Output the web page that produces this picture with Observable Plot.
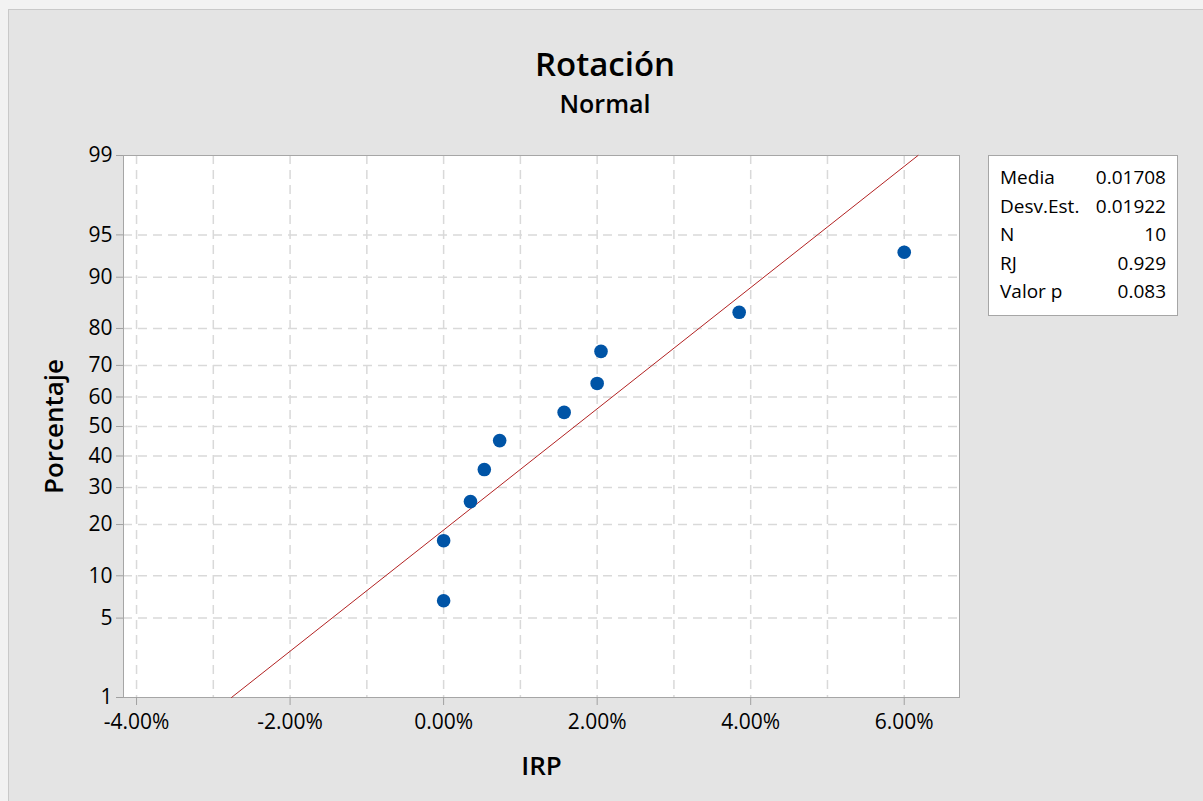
<!DOCTYPE html>
<html><head><meta charset="utf-8">
<script src="https://cdn.jsdelivr.net/npm/d3@7"></script>
<script src="https://cdn.jsdelivr.net/npm/@observablehq/plot@0.6"></script>
<style>
html,body{margin:0;padding:0;width:1203px;height:801px;overflow:hidden;background:#f2f2f2;font-family:"Open Sans",sans-serif;color:#000;}
#panel{position:absolute;left:8px;top:9px;width:1195px;height:792px;background:#e4e4e4;border-left:1px solid #c9c9c9;border-top:1px solid #c9c9c9;}
#title{position:absolute;left:0;width:1210px;top:47px;text-align:center;font-size:33px;line-height:33px;font-weight:600;}
#subtitle{position:absolute;left:0;width:1210px;top:91px;text-align:center;font-size:25px;line-height:25px;font-weight:600;}
#chart{position:absolute;left:0;top:140px;}
#stats{position:absolute;left:988px;top:155px;width:188px;height:152px;background:#fff;border:1px solid #a6a6a6;padding-top:7px;box-sizing:content-box;}
#stats .row{display:flex;justify-content:space-between;height:28.5px;line-height:28.5px;font-size:19px;padding:0 11px 0 11px;}
g[aria-label="x-axis label"], g[aria-label="x-axis label"] text,
g[aria-label="y-axis label"], g[aria-label="y-axis label"] text{font-size:26px;font-weight:600;}
</style>
</head><body>
<div id="panel"></div>
<div id="title"></div>
<div id="subtitle"></div>
<div id="chart"></div>
<div id="stats"></div>
<script>
// ---- data ----
const titleText = "Rotación";
const subtitleText = "Normal";
const xLabel = "IRP";
const yLabel = "Porcentaje";
const irp = [0.0000, 0.0000, 0.0035, 0.0053, 0.0073, 0.0157, 0.0200, 0.0205, 0.0385, 0.0600];
const percent = [6.73, 16.35, 25.96, 35.58, 45.19, 54.81, 64.42, 74.04, 83.65, 93.27];
const yTickPercents = [1, 5, 10, 20, 30, 40, 50, 60, 70, 80, 90, 95, 99];
const yGridPercents = [5, 10, 20, 30, 40, 50, 60, 70, 80, 90, 95];
const xTicks = [-0.04, -0.02, 0, 0.02, 0.04, 0.06];
const xGrid = [-0.04, -0.03, -0.02, -0.01, 0, 0.01, 0.02, 0.03, 0.04, 0.05, 0.06];
const fitMean = 0.01708;
const fitSd = 0.01922;
const fitPercent = [1, 99];
const statLabels = ["Media", "Desv.Est.", "N", "RJ", "Valor p"];
const statValues = ["0.01708", "0.01922", "10", "0.929", "0.083"];

// inverse normal CDF (Acklam)
function probit(p){
  const a=[-3.969683028665376e+01,2.209460984245205e+02,-2.759285104469687e+02,1.383577518672690e+02,-3.066479806614716e+01,2.506628277459239e+00];
  const b=[-5.447609879822406e+01,1.615858368580409e+02,-1.556989798598866e+02,6.680131188771972e+01,-1.328068155288572e+01];
  const c=[-7.784894002430293e-03,-3.223964580411365e-01,-2.400758277161838e+00,-2.549732539343734e+00,4.374664141464968e+00,2.938163982698783e+00];
  const d=[7.784695709041462e-03,3.224671290700398e-01,2.445134137142996e+00,3.754408661907416e+00];
  const pl=0.02425, ph=1-pl; let q,r;
  if(p<pl){q=Math.sqrt(-2*Math.log(p));return (((((c[0]*q+c[1])*q+c[2])*q+c[3])*q+c[4])*q+c[5])/((((d[0]*q+d[1])*q+d[2])*q+d[3])*q+1);}
  if(p<=ph){q=p-0.5;r=q*q;return (((((a[0]*r+a[1])*r+a[2])*r+a[3])*r+a[4])*r+a[5])*q/(((((b[0]*r+b[1])*r+b[2])*r+b[3])*r+b[4])*r+1);}
  q=Math.sqrt(-2*Math.log(1-p));return -(((((c[0]*q+c[1])*q+c[2])*q+c[3])*q+c[4])*q+c[5])/((((d[0]*q+d[1])*q+d[2])*q+d[3])*q+1);
}

document.getElementById("title").textContent = titleText;
document.getElementById("subtitle").textContent = subtitleText;
const stats = document.getElementById("stats");
statLabels.forEach((l,i)=>{
  const row=document.createElement("div");row.className="row";
  const a=document.createElement("span");a.textContent=l;
  const b=document.createElement("span");b.textContent=statValues[i];
  row.append(a,b);stats.append(row);
});

const yTicks = yTickPercents.map(p => probit(p/100));
const yFmt = new Map(yTicks.map((v,i)=>[v, String(yTickPercents[i])]));
const yGrid = yGridPercents.map(p => probit(p/100));
const pts = irp.map((x,i)=>({x, z: probit(percent[i]/100)}));
const fit = fitPercent.map(p => ({z: probit(p/100), x: fitMean + fitSd*probit(p/100)}));
const fmtPct = d => (d*100).toFixed(2) + "%";

const chart = Plot.plot({
  width: 1203, height: 661,
  marginTop: 15, marginLeft: 123, marginRight: 244, marginBottom: 104,
  style: {background: "transparent", fontFamily: "Open Sans", fontSize: "21px", color: "#000"},
  x: {domain: [-0.0417, 0.0672]},
  y: {domain: [probit(0.01), probit(0.99)]},
  marks: [
    Plot.frame({fill: "white", stroke: null}),
    Plot.gridX(xGrid, {stroke: "#d9d9d9", strokeOpacity: 1, strokeWidth: 1.5, strokeDasharray: "9,6"}),
    Plot.gridY(yGrid, {stroke: "#d9d9d9", strokeOpacity: 1, strokeWidth: 1.5, strokeDasharray: "9,6"}),
    Plot.frame({stroke: "#a6a6a6"}),
    Plot.axisX(xTicks, {tickFormat: fmtPct, tickSize: 8, tickPadding: 9, stroke: "#a0a0a0", label: xLabel, labelAnchor: "center", labelOffset: 77, labelArrow: "none"}),
    Plot.axisY(yTicks, {tickFormat: d => yFmt.get(d), tickSize: 7, tickPadding: 4, stroke: "#a0a0a0", label: yLabel, labelAnchor: "center", labelOffset: 79, labelArrow: "none"}),
    Plot.line(fit, {x: "x", y: "z", stroke: "#b22222", strokeWidth: 1}),
    Plot.dot(pts, {x: "x", y: "z", r: 6.8, fill: "#0054a6"})
  ]
});
document.getElementById("chart").append(chart);
</script>
</body></html>
